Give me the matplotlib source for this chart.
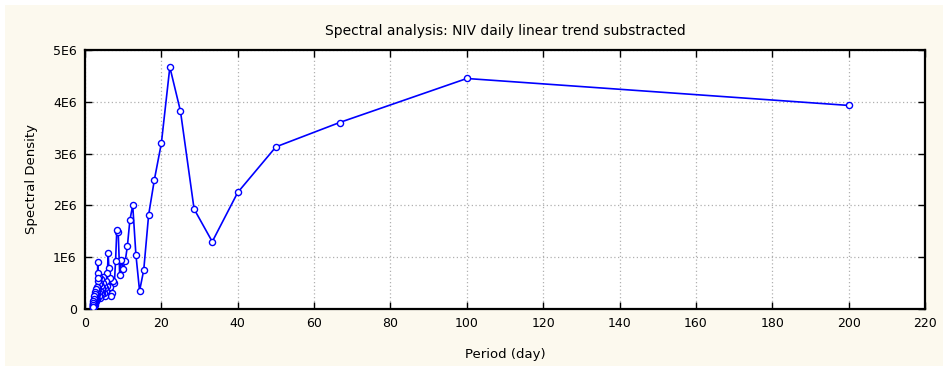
import matplotlib
matplotlib.use("Agg")
import matplotlib.pyplot as plt
from matplotlib.patches import Rectangle

# Period (days) of each spectral estimate
period_days = [
    200, 100, 66.67, 50, 40, 33.33, 28.57, 25, 22.22, 20,
    18.18, 16.67, 15.38, 14.29, 13.33, 12.5, 11.76, 11.11, 10.53, 10,
    9.52, 9.09, 8.70, 8.33, 8, 7.69, 7.41, 7.14, 6.90, 6.67,
    6.45, 6.25, 6.06, 5.88, 5.71, 5.56, 5.41, 5.26, 5.13, 5,
    4.88, 4.76, 4.65, 4.55, 4.44, 4.35, 4.26, 4.17, 4.08, 4,
    3.92, 3.85, 3.77, 3.70, 3.64, 3.57, 3.51, 3.45, 3.39, 3.33,
    3.28, 3.23, 3.17, 3.13, 3.08, 3.03, 2.99, 2.94, 2.90, 2.86,
    2.82, 2.78, 2.74, 2.70, 2.67, 2.63, 2.60, 2.56, 2.53, 2.5,
    2.47, 2.44, 2.41, 2.38, 2.35, 2.33, 2.30, 2.27, 2.25, 2.22,
    2.20, 2.17, 2.15, 2.13, 2.11, 2.08, 2.06, 2.04, 2.02, 2,
]

# Spectral density (units of 1E6)
density_1e6 = [
    3.93, 4.45, 3.60, 3.13, 2.25, 1.30, 1.93, 3.82, 4.67, 3.20,
    2.50, 1.82, 0.75, 0.35, 1.05, 2.00, 1.72, 1.22, 0.92, 0.78,
    0.95, 0.65, 1.48, 1.52, 0.92, 0.50, 0.55, 0.30, 0.25, 0.42,
    0.60, 0.80, 1.08, 0.70, 0.45, 0.35, 0.55, 0.40, 0.25, 0.30,
    0.45, 0.62, 0.50, 0.35, 0.28, 0.40, 0.58, 0.45, 0.30, 0.22,
    0.35, 0.50, 0.62, 0.48, 0.30, 0.25, 0.40, 0.55, 0.70, 0.90,
    0.60, 0.35, 0.20, 0.28, 0.42, 0.30, 0.18, 0.25, 0.38, 0.28,
    0.15, 0.22, 0.32, 0.20, 0.12, 0.18, 0.28, 0.22, 0.12, 0.08,
    0.15, 0.25, 0.18, 0.10, 0.06, 0.12, 0.20, 0.14, 0.08, 0.05,
    0.10, 0.16, 0.10, 0.06, 0.04, 0.08, 0.12, 0.07, 0.04, 0.03,
]
density = [v * 1e6 for v in density_1e6]

x_ticks = [0, 20, 40, 60, 80, 100, 120, 140, 160, 180, 200, 220]
y_ticks = [0, 1e6, 2e6, 3e6, 4e6, 5e6]
y_tick_labels = ["0", "1E6", "2E6", "3E6", "4E6", "5E6"]

plt.rcParams['font.family'] = ['DejaVu Sans']

fig = plt.figure(figsize=(9.43, 3.66), dpi=100, facecolor='white')
fig.patches.append(Rectangle((5 / 943, -0.02), 1, 361 / 366 + 0.02, transform=fig.transFigure,
                             facecolor='#fcf9ee', edgecolor='none', zorder=-10))

ax = fig.add_axes([85 / 943, 57 / 366, 840 / 943, 259 / 366])
ax.set_facecolor('white')

ax.plot(period_days, density, color='#0000ff', linewidth=1.2,
        marker='o', markersize=4.4, markerfacecolor='white',
        markeredgecolor='#0000ff', markeredgewidth=1.0, zorder=3)

ax.set_xlim(0, 220)
ax.set_ylim(0, 5e6)
ax.set_xticks(x_ticks)
ax.set_xticklabels([str(t) for t in x_ticks])
ax.set_yticks(y_ticks)
ax.set_yticklabels(y_tick_labels)

ax.grid(True, color='#b0b0b0', linestyle=(0, (1, 2)), linewidth=0.9)
ax.tick_params(direction='in', length=5, width=1, top=True, right=True,
               labelsize=9, pad=6, colors='black')
for s in ax.spines.values():
    s.set_linewidth(1.6)
    s.set_color('black')

ax.set_title("Spectral analysis: NIV daily linear trend substracted",
             fontsize=10, pad=11)
ax.set_xlabel("Period (day)", fontsize=9.5, labelpad=13)
ax.set_ylabel("Spectral Density", fontsize=9.5, labelpad=11)

fig.savefig("out.png", dpi=100, facecolor=fig.get_facecolor())
